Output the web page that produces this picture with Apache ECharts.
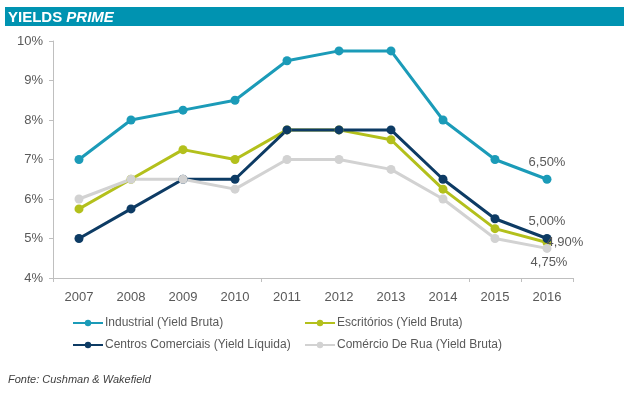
<!DOCTYPE html>
<html>
<head>
<meta charset="utf-8">
<script src="https://cdn.jsdelivr.net/npm/echarts@6/dist/echarts.min.js"></script>
<style>
html,body{margin:0;padding:0;background:#fff;}
#c{width:633px;height:395px;}
</style>
</head>
<body>
<div id="c"></div>
<script>
var years = ['2007','2008','2009','2010','2011','2012','2013','2014','2015','2016'];
var industrial = [7.0, 8.0, 8.25, 8.5, 9.5, 9.75, 9.75, 8.0, 7.0, 6.5];
var escritorios = [5.75, 6.5, 7.25, 7.0, 7.75, 7.75, 7.5, 6.25, 5.25, 4.9];
var centros = [5.0, 5.75, 6.5, 6.5, 7.75, 7.75, 7.75, 6.5, 5.5, 5.0];
var comercio = [6.0, 6.5, 6.5, 6.25, 7.0, 7.0, 6.75, 6.0, 5.0, 4.75];
var seriesNames = ['Industrial (Yield Bruta)', 'Escritórios (Yield Bruta)', 'Centros Comerciais (Yield Líquida)', 'Comércio De Rua (Yield Bruta)'];
var colors = ['#1B9BB8', '#B3C01C', '#0D3B64', '#D2D2D2'];
var endLabelPos = ['top', 'right', 'top', 'bottom'];

var FONT = 'Liberation Sans, Arial, sans-serif';
var chart = echarts.init(document.getElementById('c'), null, {renderer:'canvas'});

function withEndLabel(arr, pos, offset, dist) {
  return arr.map(function (v, i) {
    if (i === arr.length - 1) {
      return {
        value: v,
        label: {
          show: true, position: pos, distance: dist, offset: offset,
          color: '#595959', fontSize: 13, fontFamily: FONT,
          formatter: function (p) { return p.value.toFixed(2).replace('.', ',') + '%'; }
        }
      };
    }
    return v;
  });
}

var dataSets = [industrial, escritorios, centros, comercio];
var offsets = [[0, 0], [-11, 0], [0, 0], [2, 0]];
var dists = [6, 6, 6, 3];
var series = dataSets.map(function (d, k) {
  return {
    name: seriesNames[k],
    type: 'line',
    data: withEndLabel(d, endLabelPos[k], offsets[k], dists[k]),
    symbol: 'circle',
    symbolSize: 9,
    itemStyle: { color: colors[k] },
    lineStyle: { color: colors[k], width: 3 },
    emphasis: { disabled: true },
    animation: false
  };
});

function legendAt(k, left, top) {
  return {
    data: [seriesNames[k]],
    left: left, top: top,
    itemWidth: 30, itemHeight: 8, itemGap: 0,
    textStyle: { color: '#595959', fontSize: 12, fontFamily: FONT, padding: [0, 0, 0, -3] },
    padding: 0
  };
}

chart.setOption({
  animation: false,
  textStyle: { fontFamily: FONT },
  graphic: [
    { type: 'rect', shape: { x: 5, y: 7, width: 619, height: 19 }, style: { fill: '#0093B1' }, z: 0 }
  ],
  title: {
    text: '{a|YIELDS }{b|PRIME}',
    left: 8, top: 10, padding: 0,
    textStyle: {
      rich: {
        a: { color: '#fff', fontWeight: 'bold', fontSize: 15, fontFamily: FONT },
        b: { color: '#fff', fontWeight: 'bold', fontStyle: 'italic', fontSize: 15, fontFamily: FONT }
      }
    }
  },
  legend: [
    legendAt(0, 72, 317),
    legendAt(1, 304, 317),
    legendAt(2, 72, 339),
    legendAt(3, 304, 339)
  ],
  grid: { left: 53, right: 60, top: 41, bottom: 117 },
  xAxis: {
    type: 'category',
    data: years,
    boundaryGap: true,
    axisLine: { lineStyle: { color: '#BFBFBF', width: 1 } },
    axisTick: { show: true, interval: 3, length: 4, lineStyle: { color: '#BFBFBF' } },
    axisLabel: { interval: 0, color: '#595959', fontSize: 13, margin: 13, fontFamily: FONT }
  },
  yAxis: {
    type: 'value',
    min: 4, max: 10, interval: 1,
    axisLine: { show: true, lineStyle: { color: '#BFBFBF', width: 1 } },
    axisTick: { show: true, length: 4, lineStyle: { color: '#BFBFBF' } },
    splitLine: { show: false },
    axisLabel: { color: '#595959', fontSize: 13, margin: 10, formatter: '{value}%', fontFamily: FONT }
  },
  series: series
});
</script>
<div style="position:absolute;left:8px;top:373px;font:italic 11px 'Liberation Sans',Arial,sans-serif;color:#404040;">Fonte: Cushman &amp; Wakefield</div>
</body>
</html>
